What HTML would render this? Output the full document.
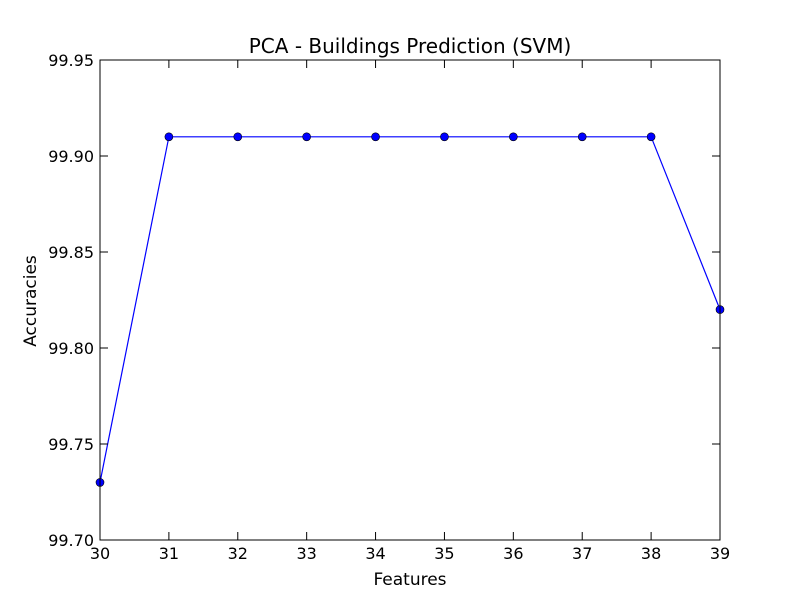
<!DOCTYPE html>
<html><head><meta charset="utf-8"><style>
body{margin:0;background:#fff;}
svg{display:block;font-family:"DejaVu Sans","Liberation Sans",sans-serif;}
</style></head><body>
<svg id="chart" width="800" height="600" xmlns="http://www.w3.org/2000/svg">
<rect width="800" height="600" fill="#fff"/>
<g id="ax"></g>
</svg>
<script>
const categories=[30,31,32,33,34,35,36,37,38,39];
const accuracies=[99.73,99.91,99.91,99.91,99.91,99.91,99.91,99.91,99.91,99.82];
const xTicks=[30,31,32,33,34,35,36,37,38,39];
const yTicks=[99.70,99.75,99.80,99.85,99.90,99.95];
const L=100,R=720,T=60,B=540;
const xs=v=>L+(v-30)/(39-30)*(R-L);
const ys=v=>B-(v-99.70)/(99.95-99.70)*(B-T);
const ns='http://www.w3.org/2000/svg';
const g=document.getElementById('ax');
function mk(tag,a,parent){const e=document.createElementNS(ns,tag);for(const k in a)e.setAttribute(k,a[k]);(parent||g).appendChild(e);return e;}
let d=categories.map((c,i)=>(i?'L':'M')+xs(c)+','+ys(accuracies[i])).join(' ');
const line=mk('path',{d:d,fill:'none',stroke:'#0000ff','stroke-width':1.2});


categories.forEach((c,i)=>{
 const p=mk('circle',{cx:xs(c),cy:ys(accuracies[i]),r:4,fill:'#0000ff',stroke:'#000','stroke-width':0.6});
 
 
});
const fr=mk('rect',{x:L,y:T,width:R-L,height:B-T,fill:'none',stroke:'#000','stroke-width':1});


xTicks.forEach(t=>{
 const x=xs(t);
 mk('line',{x1:x,y1:B,x2:x,y2:B-8,stroke:'#000'});
 mk('line',{x1:x,y1:T,x2:x,y2:T+8,stroke:'#000'});
 const tx=mk('text',{x:x,y:B+19,'text-anchor':'middle','font-size':16});
 tx.textContent=t;
 
 
});
yTicks.forEach(t=>{
 const y=ys(t);
 mk('line',{x1:L,y1:y,x2:L+8,y2:y,stroke:'#000'});
 mk('line',{x1:R,y1:y,x2:R-8,y2:y,stroke:'#000'});
 const tx=mk('text',{x:L-6,y:y+6,'text-anchor':'end','font-size':16});
 tx.textContent=t.toFixed(2);
 
 
});
const ti=mk('text',{x:410,y:53,'text-anchor':'middle','font-size':20});
ti.textContent='PCA - Buildings Prediction (SVM)';


const xl=mk('text',{x:410,y:585,'text-anchor':'middle','font-size':17});
xl.textContent='Features';


const yl=mk('text',{x:36,y:301,'text-anchor':'middle','font-size':17,transform:'rotate(-90 36 301)'});
yl.textContent='Accuracies';


</script>
</body></html>
